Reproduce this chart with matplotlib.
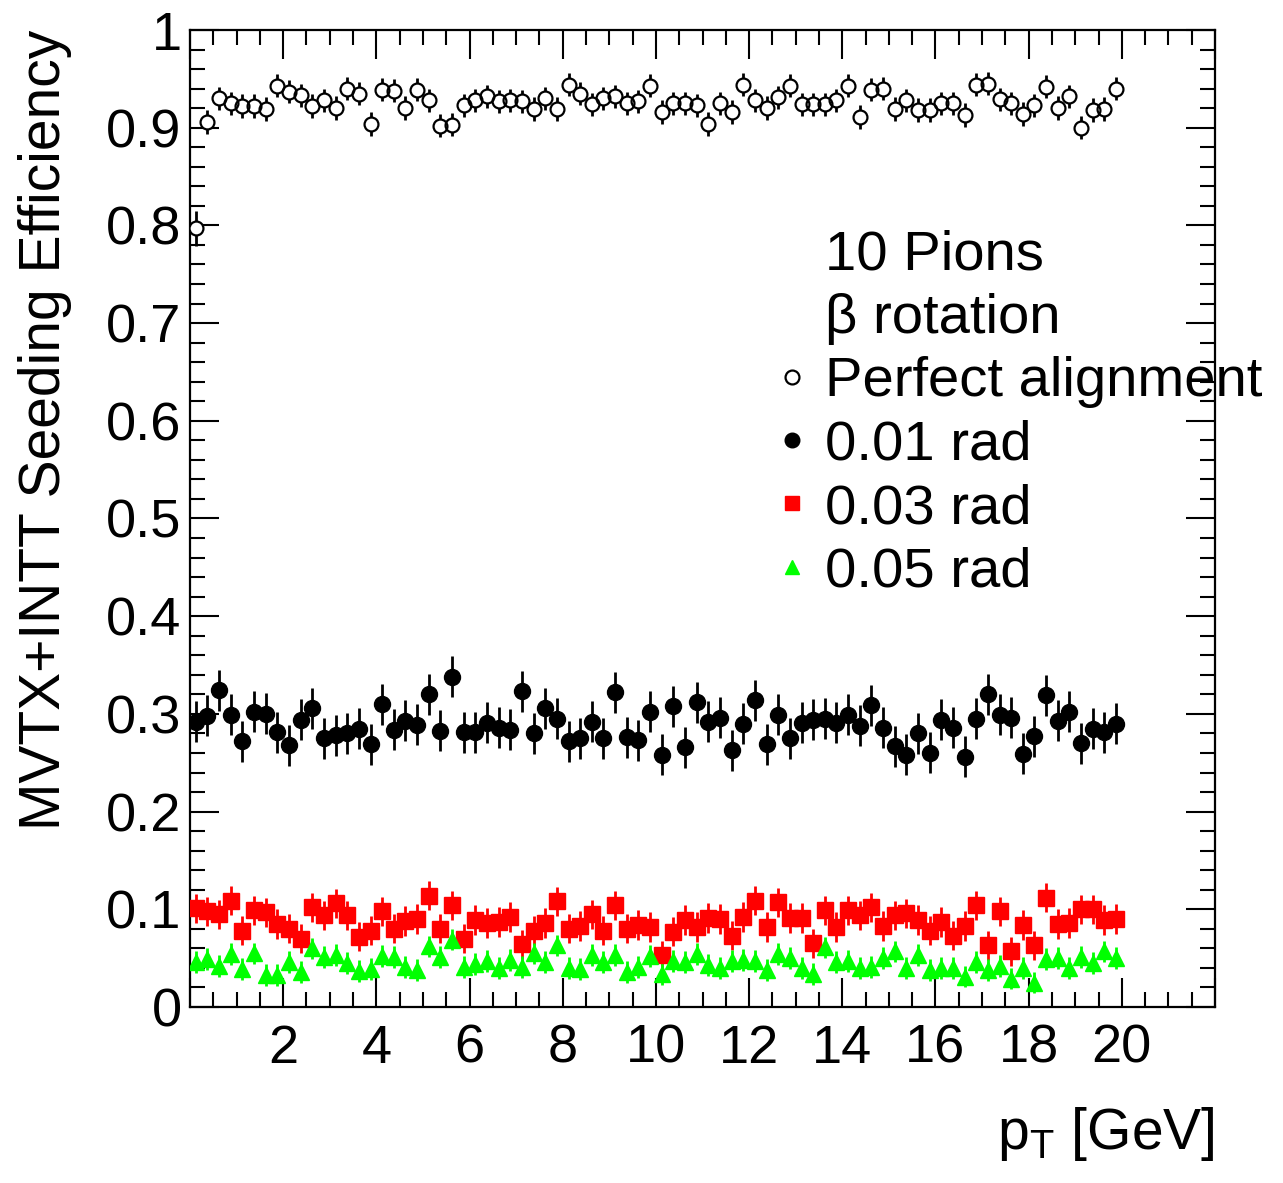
import numpy as np
import matplotlib.pyplot as plt
from matplotlib.lines import Line2D
from matplotlib.ticker import MultipleLocator, FuncFormatter

plt.rcParams['font.family'] = ['Liberation Sans', 'DejaVu Sans']
plt.rcParams['mathtext.fontset'] = 'custom'
plt.rcParams['mathtext.rm'] = 'Liberation Sans'
plt.rcParams['mathtext.it'] = 'Liberation Sans'

# 80 pT bins of 0.25 GeV between 0 and 20 GeV
pt_centers = np.arange(0.125, 20.0, 0.25)

eff_perfect = [0.797, 0.906, 0.930, 0.925, 0.922, 0.922, 0.919, 0.943, 0.937, 0.933,
               0.922, 0.928, 0.920, 0.940, 0.935, 0.904, 0.939, 0.938, 0.920, 0.939,
               0.928, 0.902, 0.903, 0.923, 0.928, 0.932, 0.927, 0.928, 0.927, 0.919,
               0.930, 0.919, 0.944, 0.935, 0.924, 0.930, 0.932, 0.925, 0.927, 0.943,
               0.916, 0.925, 0.925, 0.923, 0.904, 0.925, 0.916, 0.944, 0.928, 0.920,
               0.931, 0.943, 0.924, 0.924, 0.924, 0.928, 0.943, 0.911, 0.939, 0.940,
               0.919, 0.928, 0.918, 0.918, 0.925, 0.925, 0.913, 0.944, 0.945, 0.929,
               0.925, 0.914, 0.923, 0.942, 0.920, 0.932, 0.900, 0.918, 0.919, 0.940]

eff_001 = [0.292, 0.298, 0.324, 0.299, 0.272, 0.302, 0.300, 0.281, 0.268, 0.294,
           0.306, 0.275, 0.278, 0.280, 0.285, 0.269, 0.310, 0.284, 0.293, 0.289,
           0.320, 0.283, 0.338, 0.281, 0.281, 0.291, 0.286, 0.284, 0.323, 0.280,
           0.306, 0.295, 0.272, 0.275, 0.292, 0.275, 0.322, 0.276, 0.273, 0.302,
           0.258, 0.308, 0.266, 0.312, 0.292, 0.296, 0.263, 0.290, 0.314, 0.269,
           0.299, 0.275, 0.291, 0.294, 0.295, 0.291, 0.299, 0.288, 0.309, 0.286,
           0.267, 0.258, 0.280, 0.260, 0.294, 0.286, 0.256, 0.295, 0.320, 0.299,
           0.296, 0.259, 0.277, 0.319, 0.293, 0.302, 0.270, 0.285, 0.281, 0.290]

eff_003 = [0.101, 0.098, 0.095, 0.109, 0.078, 0.099, 0.097, 0.085, 0.080, 0.070,
           0.102, 0.094, 0.106, 0.094, 0.072, 0.078, 0.098, 0.080, 0.088, 0.090,
           0.114, 0.080, 0.104, 0.070, 0.089, 0.086, 0.087, 0.092, 0.064, 0.078,
           0.086, 0.108, 0.080, 0.083, 0.095, 0.078, 0.104, 0.080, 0.084, 0.082,
           0.053, 0.077, 0.089, 0.082, 0.091, 0.090, 0.073, 0.092, 0.109, 0.082,
           0.107, 0.091, 0.091, 0.065, 0.099, 0.082, 0.099, 0.094, 0.102, 0.083,
           0.094, 0.096, 0.089, 0.078, 0.087, 0.073, 0.083, 0.104, 0.063, 0.098,
           0.057, 0.084, 0.063, 0.112, 0.085, 0.086, 0.100, 0.100, 0.089, 0.090]

eff_005 = [0.046, 0.049, 0.042, 0.054, 0.039, 0.055, 0.033, 0.033, 0.046, 0.036,
           0.060, 0.051, 0.053, 0.045, 0.037, 0.039, 0.052, 0.051, 0.041, 0.038,
           0.062, 0.051, 0.069, 0.041, 0.044, 0.047, 0.040, 0.048, 0.041, 0.055,
           0.046, 0.063, 0.040, 0.039, 0.053, 0.046, 0.053, 0.036, 0.041, 0.052,
           0.034, 0.047, 0.046, 0.054, 0.043, 0.040, 0.047, 0.048, 0.047, 0.038,
           0.054, 0.050, 0.040, 0.034, 0.061, 0.046, 0.047, 0.040, 0.041, 0.050,
           0.057, 0.040, 0.053, 0.038, 0.040, 0.040, 0.031, 0.046, 0.038, 0.042,
           0.029, 0.040, 0.025, 0.049, 0.050, 0.040, 0.051, 0.045, 0.057, 0.050]

# error bar half-lengths
err_perfect = [0.018] + [0.012] * 79
err_001 = [0.021] * 80
err_003 = [0.015] * 80
err_005 = [0.011] * 80

legend_labels = ['10 Pions', '\u03b2 rotation', 'Perfect alignment',
                 '0.01 rad', '0.03 rad', '0.05 rad']

GREEN = '#00ff00'
RED = '#ff0000'

fig = plt.figure(figsize=(12.83, 11.83), dpi=100)
ax = fig.add_axes([190 / 1283, 1 - 1007 / 1183, 1025 / 1283, 977 / 1183])

ebar = dict(fmt='none', elinewidth=2.0, capsize=0)

# perfect alignment: open circles, error bars hidden inside the circles
ax.errorbar(pt_centers, eff_perfect, yerr=err_perfect, ecolor='black', zorder=2, **ebar)
ax.plot(pt_centers, eff_perfect, 'o', ms=10, mfc='white', mec='none', zorder=3)
ax.plot(pt_centers, eff_perfect, 'o', ms=10, mfc='none', mec='black', mew=1.6, zorder=4)

ax.errorbar(pt_centers, eff_001, yerr=err_001, ecolor='black', zorder=2, **ebar)
ax.plot(pt_centers, eff_001, 'o', ms=11.5, color='black', zorder=4)

ax.errorbar(pt_centers, eff_003, yerr=err_003, ecolor=RED, zorder=2, **ebar)
ax.plot(pt_centers, eff_003, 's', ms=11, color=RED, zorder=4)

ax.errorbar(pt_centers, eff_005, yerr=err_005, ecolor=GREEN, zorder=2, **ebar)
ax.plot(pt_centers, eff_005, '^', ms=11.5, color=GREEN, zorder=4)

ax.set_xlim(0, 22)
ax.set_ylim(0, 1)

ax.xaxis.set_major_locator(MultipleLocator(2))
ax.xaxis.set_minor_locator(MultipleLocator(0.5))
ax.yaxis.set_major_locator(MultipleLocator(0.1))
ax.yaxis.set_minor_locator(MultipleLocator(0.02))
ax.xaxis.set_major_formatter(FuncFormatter(lambda v, _: '' if v < 1 or v > 21 else f'{v:g}'))
ax.yaxis.set_major_formatter(FuncFormatter(lambda v, _: f'{v:g}'))

ax.tick_params(which='both', direction='in', top=True, right=True, width=1.5,
               labelsize=39)
ax.tick_params(which='major', length=21)
ax.tick_params(which='minor', length=10.5)
ax.tick_params(axis='y', pad=6)
ax.tick_params(axis='x', pad=12)
for s in ax.spines.values():
    s.set_linewidth(1.6)

ax.set_ylabel('MVTX+INTT Seeding Efficiency', fontsize=41, loc='top')
ax.yaxis.set_label_coords(-0.115, 1.0)
ax.set_xlabel('p$_{\\mathregular{T}}$ [GeV]', fontsize=41, loc='right')
ax.xaxis.set_label_coords(1.0, -0.1)

handles = [Line2D([], [], linestyle='none'),
           Line2D([], [], linestyle='none'),
           Line2D([], [], linestyle='none', marker='o', ms=10, mfc='none', mec='black', mew=1.6),
           Line2D([], [], linestyle='none', marker='o', ms=10.5, color='black'),
           Line2D([], [], linestyle='none', marker='s', ms=10, color=RED),
           Line2D([], [], linestyle='none', marker='^', ms=10, color=GREEN)]
fig.legend(handles, legend_labels, loc='upper left',
           bbox_to_anchor=(778 / 1283, 1 - 230 / 1183), frameon=False,
           fontsize=40.5, handlelength=0.5, handletextpad=0.34,
           borderpad=0, borderaxespad=0, labelspacing=0.2)

plt.savefig('out.png', dpi=100)
